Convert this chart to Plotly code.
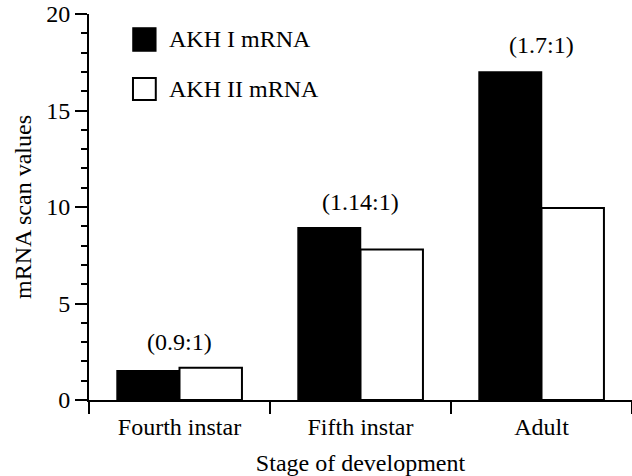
import plotly.graph_objects as go

stages = ["Fourth instar", "Fifth instar", "Adult"]
akh1 = [1.52, 8.93, 17.0]
akh2 = [1.67, 7.8, 9.95]
ratios = ["(0.9:1)", "(1.14:1)", "(1.7:1)"]
ratio_shift = [11, 11, 12]

FONT = "Times New Roman"
FS = 24

fig = go.Figure()
fig.add_trace(go.Bar(x=stages, y=akh1, name="AKH I mRNA",
                     marker=dict(color="black", line=dict(color="black", width=1.5)),
                     showlegend=False))
fig.add_trace(go.Bar(x=stages, y=akh2, name="AKH II mRNA",
                     marker=dict(color="white", line=dict(color="black", width=2)),
                     showlegend=False))

for s, r, a, b, sh in zip(stages, ratios, akh1, akh2, ratio_shift):
    fig.add_annotation(x=s, y=max(a, b), text=r, showarrow=False,
                       yanchor="bottom", yshift=sh,
                       font=dict(family=FONT, size=FS, color="black"))

# legend drawn manually
fig.add_shape(type="rect", xref="paper", yref="paper", x0=0.081, x1=0.123,
              y0=0.904, y1=0.964, fillcolor="black", line=dict(color="black", width=1.5))
fig.add_shape(type="rect", xref="paper", yref="paper", x0=0.081, x1=0.123,
              y0=0.777, y1=0.834, fillcolor="white", line=dict(color="black", width=2))
fig.add_annotation(xref="paper", yref="paper", x=0.143, y=0.935, text="AKH I mRNA",
                   showarrow=False, xanchor="left", yanchor="middle",
                   font=dict(family=FONT, size=FS, color="black"))
fig.add_annotation(xref="paper", yref="paper", x=0.143, y=0.806, text="AKH II mRNA",
                   showarrow=False, xanchor="left", yanchor="middle",
                   font=dict(family=FONT, size=FS, color="black"))

fig.update_layout(
    width=632, height=476,
    margin=dict(l=89, r=0, t=14, b=76),
    paper_bgcolor="white", plot_bgcolor="white",
    barmode="group", bargap=0.31, bargroupgap=0,
    font=dict(family=FONT, size=FS, color="black"),
    xaxis=dict(
        type="category", range=[-0.5, 2.5], tickson="boundaries",
        automargin=False,
        showline=True, linecolor="black", linewidth=2,
        ticks="outside", ticklen=12, tickwidth=2, tickcolor="black",
        ticklabelstandoff=4,
        showgrid=False, zeroline=False,
        title=dict(text="Stage of development", font=dict(family=FONT, size=FS), standoff=18),
        tickfont=dict(family=FONT, size=FS),
    ),
    yaxis=dict(
        range=[0, 20], tickvals=[0, 5, 10, 15, 20],
        automargin=False,
        showline=True, linecolor="black", linewidth=2,
        ticks="outside", ticklen=12, tickwidth=2, tickcolor="black",
        minor=dict(dtick=1, ticks="outside", ticklen=6, tickwidth=1.5, tickcolor="black", showgrid=False),
        showgrid=False, zeroline=False,
        title=dict(text="mRNA scan values", font=dict(family=FONT, size=FS), standoff=8),
        tickfont=dict(family=FONT, size=FS),
    ),
)

fig.write_html("out.html", config={"displayModeBar": False},
               post_script="document.body.style.margin='0px';")
